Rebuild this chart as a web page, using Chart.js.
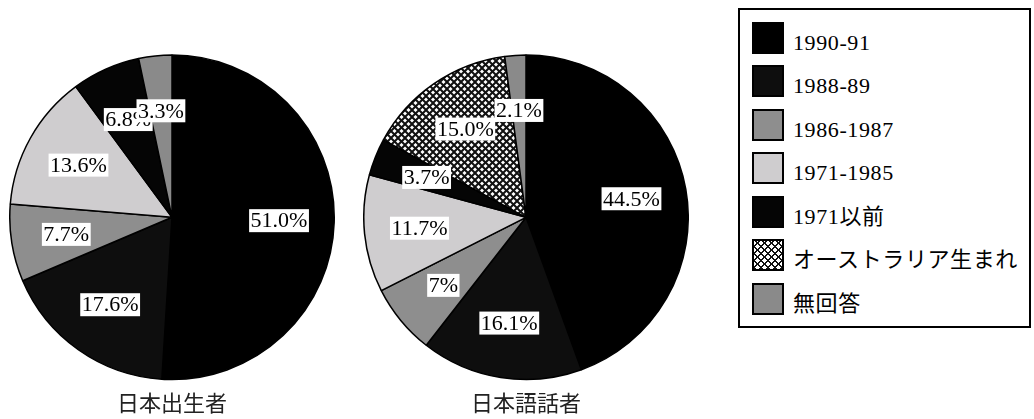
<!DOCTYPE html>
<html>
<head>
<meta charset="utf-8">
<script src="https://cdn.jsdelivr.net/npm/chart.js@4/dist/chart.umd.min.js"></script>
<style>
  body { margin:0; background:#fff; width:1034px; height:419px; overflow:hidden; position:relative; }
  canvas.pie { position:absolute; top:54px; }
  #legend { position:absolute; left:738px; top:8px; width:293px; height:320px; box-sizing:border-box;
            border:2px solid #000; padding:0 0 0 12px; }
  .item { display:flex; align-items:flex-end; height:43.5px; }
  .sw { width:32px; height:32px; box-sizing:border-box; border:2px solid #000; flex:none; }
  .txt { margin-left:9px; font:22px "Liberation Serif","Noto Sans CJK JP"; line-height:22px; color:#000; letter-spacing:0.6px; }
</style>
</head>
<body>
<canvas id="born" class="pie" width="326" height="362" style="left:9px"></canvas>
<canvas id="speaker" class="pie" width="326" height="362" style="left:363px"></canvas>
<div id="legend"></div>
<script>
const categories = ['1990-91', '1988-89', '1986-1987', '1971-1985', '1971以前', 'オーストラリア生まれ', '無回答'];
const bornValues = [51.0, 17.6, 7.7, 13.6, 6.8, 0, 3.3];
const bornLabels = ['51.0%', '17.6%', '7.7%', '13.6%', '6.8%', '', '3.3%'];
const speakerValues = [44.5, 16.1, 7, 11.7, 3.7, 15.0, 2.1];
const speakerLabels = ['44.5%', '16.1%', '7%', '11.7%', '3.7%', '15.0%', '2.1%'];
const chartTitles = ['日本出生者', '日本語話者'];

// crosshatch for the Australia-born slice
function makeHatch(){
    const s = 7;
    const c = document.createElement('canvas');
    c.width = s; c.height = s;
    const g = c.getContext('2d');
    g.fillStyle = '#fff'; g.fillRect(0,0,s,s);
    g.strokeStyle = '#111'; g.lineWidth = 2;
    for(let k=-s;k<=s;k+=s){
        g.beginPath(); g.moveTo(k,0); g.lineTo(k+s,s); g.stroke();
        g.beginPath(); g.moveTo(k+s,0); g.lineTo(k,s); g.stroke();
    }
    return g.createPattern(c,'repeat');
}
const hatch = makeHatch();
const colors = ['#000000', '#0e0e0e', '#8e8e8e', '#cfcdcf', '#050505', hatch, '#8a8a8a'];

// white boxed percentage labels
const boxLabels = {
    id:'boxLabels',
    afterDatasetsDraw(chart, args, opts){
        const ctx = chart.ctx;
        const texts = opts.texts;
        ctx.save();
        ctx.font = '22px "Liberation Serif"';
        ctx.textAlign = 'center'; ctx.textBaseline = 'middle';
        chart.getDatasetMeta(0).data.forEach((arc,i)=>{
            if(!texts[i]) return;
            const p = arc.getProps(['x','y','startAngle','endAngle','outerRadius'], true);
            const a = (p.startAngle + p.endAngle)/2;
            const r = p.outerRadius*0.66;
            const x = p.x + Math.cos(a)*r, y = p.y + Math.sin(a)*r;
            const w = ctx.measureText(texts[i]).width + 3;
            ctx.fillStyle = '#fff';
            ctx.fillRect(x - w/2, y - 11.5, w, 23);
            ctx.fillStyle = '#000';
            ctx.fillText(texts[i], x, y + 1);
        });
        ctx.restore();
    }
};

function makePie(id, values, texts, title){
    new Chart(document.getElementById(id), {
        type:'pie',
        data:{ labels:categories, datasets:[{ data:values, backgroundColor:colors, borderColor:'#000', borderWidth:1.5 }] },
        options:{
            responsive:false, animation:false,
            layout:{ padding:0 },
            plugins:{
                legend:{ display:false },
                tooltip:{ enabled:false },
                title:{ display:true, position:'bottom', text:title, color:'#222',
                        font:{ family:'"Noto Sans CJK JP"', size:22, weight:'normal', lineHeight:1.2 },
                        padding:{ top:9, bottom:0 } },
                boxLabels:{ texts }
            }
        },
        plugins:[boxLabels]
    });
}
makePie('born', bornValues, bornLabels, chartTitles[0]);
makePie('speaker', speakerValues, speakerLabels, chartTitles[1]);

// legend
let html = '';
categories.forEach((c,i)=>{
    const bg = i === 5
        ? 'background-color:#fff;background-image:repeating-linear-gradient(45deg,#111 0 1.5px,transparent 1.5px 5px),repeating-linear-gradient(-45deg,#111 0 1.5px,transparent 1.5px 5px);'
        : 'background:' + colors[i] + ';';
    html += `<div class="item"><div class="sw" style="${bg}"></div><span class="txt">${c}</span></div>`;
});
document.getElementById('legend').innerHTML = html;
</script>
</body>
</html>
